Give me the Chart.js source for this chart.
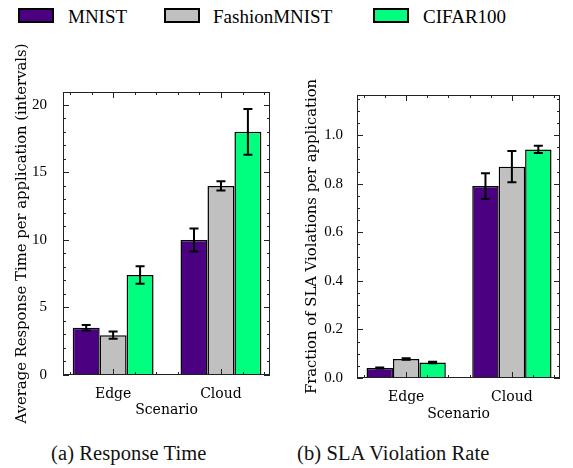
<!DOCTYPE html>
<html>
<head>
<meta charset="utf-8">
<script src="https://cdn.jsdelivr.net/npm/chart.js@4.4.1/dist/chart.umd.min.js"></script>
<style>
  body { margin: 0; background: #fff; }
  #wrap { position: relative; width: 573px; height: 468px; overflow: hidden; font-family: 'Liberation Serif', serif; color: #000; }
  #wrap canvas { position: absolute; top: 0; }
  .box { position: absolute; top: 8px; width: 32px; height: 11px; border: 2px solid #000; }
  .lab { position: absolute; top: 7px; font-size: 19px; line-height: 1; white-space: nowrap; }
  .cap { position: absolute; top: 443px; font-size: 20.5px; line-height: 1; letter-spacing: 0.1px; white-space: nowrap; color: #111; }
</style>
</head>
<body>
<div id="wrap">
  <div class="box" style="left:18px; background:#4b0082"></div><span class="lab" style="left:68px">MNIST</span>
  <div class="box" style="left:164px; background:#c0c0c0"></div><span class="lab" style="left:213px">FashionMNIST</span>
  <div class="box" style="left:373px; background:#00ff7f"></div><span class="lab" style="left:423px">CIFAR100</span>
  <canvas id="respChart" width="290" height="430" style="left:0"></canvas>
  <canvas id="slaChart" width="283" height="430" style="left:290px"></canvas>
  <span class="cap" style="left:51px">(a) Response Time</span>
  <span class="cap" style="left:297px">(b) SLA Violation Rate</span>
</div>
<script>
// Categories and series
const scenarios = ['Edge', 'Cloud'];
const seriesNames = ['MNIST', 'FashionMNIST', 'CIFAR100'];
const seriesColors = ['#4b0082', '#c0c0c0', '#00ff7f'];

// (a) average response time per application (intervals)
const respMNIST = [3.5, 10.0];
const respFashion = [2.95, 14.0];
const respCifar = [7.4, 18.0];
const respMNISTErr = [0.21, 0.85];
const respFashionErr = [0.27, 0.35];
const respCifarErr = [0.65, 1.7];

// (b) fraction of SLA violations per application
const slaMNIST = [0.041, 0.79];
const slaFashion = [0.078, 0.87];
const slaCifar = [0.064, 0.941];
const slaMNISTErr = [0.002, 0.053];
const slaFashionErr = [0.003, 0.064];
const slaCifarErr = [0.003, 0.015];

// Tick labels
const respTicks = [0, 5, 10, 15, 20];
const slaTicks = [0, 0.2, 0.4, 0.6, 0.8, 1.0];

const labelFont = { family: 'DejaVu Serif', size: 14 };
const titleFont = { family: 'DejaVu Serif', size: 14.8 };
const numFont = { family: 'Liberation Serif', size: 15 };

// error bars, inward ticks on all four sides and the frame
const sciencePlot = {
    id: 'sciencePlot',
    afterDatasetsDraw(chart) {
        const { ctx, scales: { y } } = chart;
        ctx.save();
        ctx.strokeStyle = '#000';
        ctx.lineWidth = 2;
        chart.data.datasets.forEach((ds, i) => {
            chart.getDatasetMeta(i).data.forEach((bar, j) => {
                const v = ds.data[j].y;
                const top = y.getPixelForValue(v + ds.err[j]);
                const bot = y.getPixelForValue(v - ds.err[j]);
                ctx.beginPath();
                ctx.moveTo(bar.x, top); ctx.lineTo(bar.x, bot);
                ctx.moveTo(bar.x - 4.5, top); ctx.lineTo(bar.x + 4.5, top);
                ctx.moveTo(bar.x - 4.5, bot); ctx.lineTo(bar.x + 4.5, bot);
                ctx.stroke();
            });
        });
        ctx.restore();
    },
    afterDraw(chart, args, opts) {
        const { ctx, chartArea: a, scales: { x, y } } = chart;
        ctx.save();
        ctx.strokeStyle = '#222';
        ctx.lineWidth = 1;
        const hTick = (v, len) => {
            const px = Math.round(x.getPixelForValue(v)) + 0.5;
            ctx.moveTo(px, a.bottom); ctx.lineTo(px, a.bottom - len);
            ctx.moveTo(px, a.top); ctx.lineTo(px, a.top + len);
        };
        const vTick = (v, len) => {
            const py = Math.round(y.getPixelForValue(v)) + 0.5;
            ctx.moveTo(a.left, py); ctx.lineTo(a.left + len, py);
            ctx.moveTo(a.right, py); ctx.lineTo(a.right - len, py);
        };
        ctx.beginPath();
        for (let k = Math.ceil(x.min / 0.2); k * 0.2 <= x.max; k++) {
            if (k % 5 !== 0) hTick(k * 0.2, 3);
        }
        scenarios.forEach((s, i) => hTick(i, 6));
        for (let k = 1; k * opts.minor <= y.max; k++) {
            if (k % opts.per !== 0) vTick(k * opts.minor, 3);
        }
        y.ticks.forEach(t => vTick(t.value, 6));
        ctx.stroke();
        ctx.strokeRect(a.left + 0.5, a.top + 0.5, a.right - a.left - 1, a.bottom - a.top - 1);
        ctx.restore();
    }
};

function makeDatasets(values, errors) {
    return seriesNames.map((name, i) => ({
        label: name,
        data: scenarios.map((s, j) => ({ x: j, y: values[i][j] })),
        err: errors[i],
        backgroundColor: seriesColors[i],
        borderColor: '#000',
        borderWidth: 1.5,
        categoryPercentage: 0.75,
        barPercentage: 1.0
    }));
}

function makeChart(canvasId, cfg) {
    return new Chart(document.getElementById(canvasId).getContext('2d'), {
        type: 'bar',
        data: { datasets: makeDatasets(cfg.values, cfg.errors) },
        plugins: [sciencePlot],
        options: {
            responsive: false,
            animation: false,
            layout: { padding: { top: cfg.padTop, right: cfg.padRight, left: 0, bottom: 0 } },
            plugins: {
                legend: { display: false },
                tooltip: { enabled: false },
                sciencePlot: { minor: cfg.minor, per: cfg.per }
            },
            scales: {
                x: {
                    type: 'linear',
                    offset: false,
                    min: -0.465,
                    max: 1.455,
                    grid: { display: false },
                    border: { display: false },
                    afterBuildTicks: s => { s.ticks = scenarios.map((n, i) => ({ value: i })); },
                    afterFit: s => { s.height = cfg.xHeight; },
                    ticks: {
                        callback: v => scenarios[v],
                        padding: 3,
                        maxRotation: 0,
                        autoSkip: false,
                        color: '#000',
                        font: labelFont
                    },
                    title: {
                        display: true,
                        text: 'Scenario',
                        color: '#000',
                        font: labelFont,
                        padding: { bottom: cfg.xTitlePad }
                    }
                },
                y: {
                    min: 0,
                    max: cfg.yMax,
                    grid: { display: false },
                    border: { display: false },
                    afterBuildTicks: s => { s.ticks = cfg.ticks.map(v => ({ value: v })); },
                    afterFit: s => { s.width = cfg.yWidth; },
                    ticks: {
                        callback: cfg.fmt,
                        padding: cfg.yTickPad,
                        color: '#000',
                        font: numFont
                    },
                    title: {
                        display: true,
                        text: cfg.yTitle,
                        color: '#000',
                        font: titleFont,
                        padding: { top: 13.5 }
                    }
                }
            }
        }
    });
}

makeChart('respChart', {
    values: [respMNIST, respFashion, respCifar],
    errors: [respMNISTErr, respFashionErr, respCifarErr],
    ticks: respTicks,
    fmt: v => String(v),
    yMax: 20.95,
    minor: 1, per: 5,
    yTitle: 'Average Response Time per application (intervals)',
    padTop: 92, padRight: 20, yWidth: 63, xHeight: 55,
    xTitlePad: 11.6, yTickPad: 8
});

makeChart('slaChart', {
    values: [slaMNIST, slaFashion, slaCifar],
    errors: [slaMNISTErr, slaFashionErr, slaCifarErr],
    ticks: slaTicks,
    fmt: v => v.toFixed(1),
    yMax: 1.165,
    minor: 0.05, per: 4,
    yTitle: 'Fraction of SLA Violations per application',
    padTop: 95, padRight: 13, yWidth: 67, xHeight: 52,
    xTitlePad: 7.6, yTickPad: 6
});
</script>
</body>
</html>
